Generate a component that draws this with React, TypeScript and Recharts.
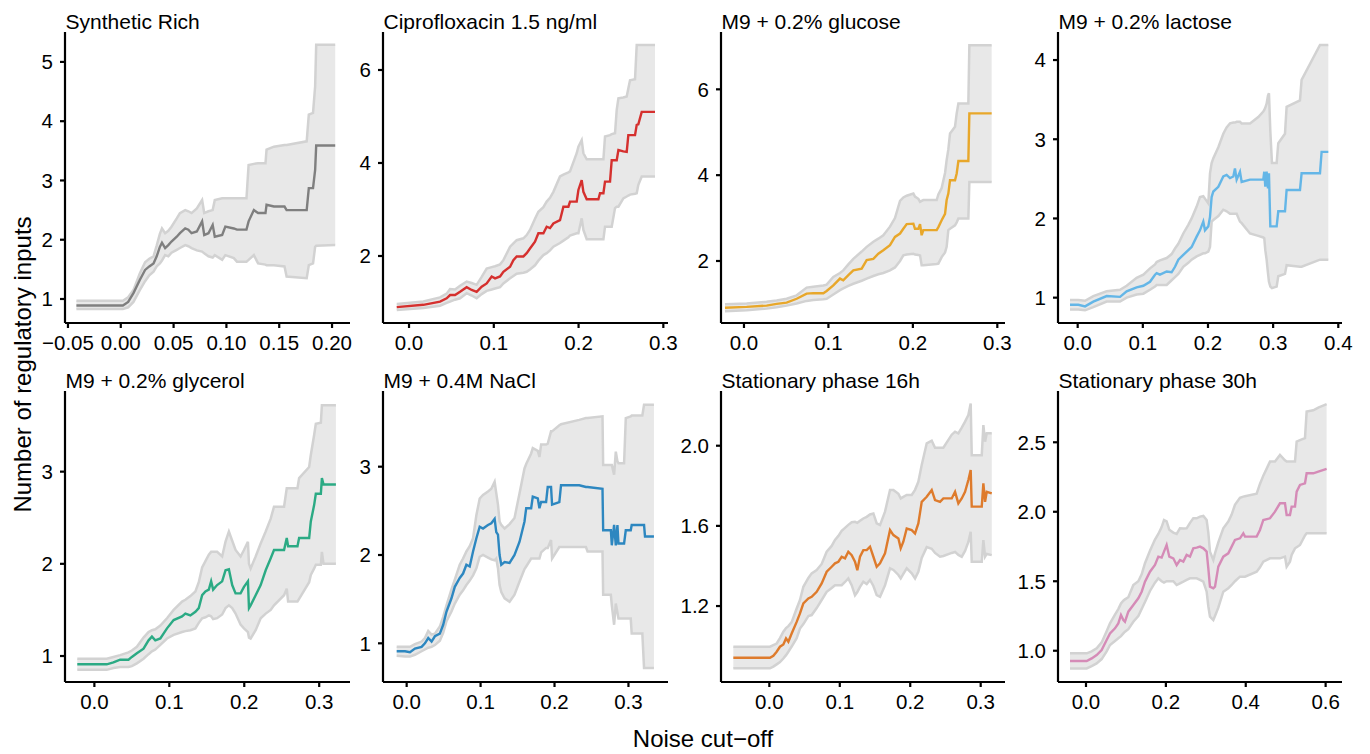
import React from 'react';
import { ComposedChart, Area, Line, XAxis, YAxis } from 'recharts';

const FONT = '"Liberation Sans", Arial, Helvetica, sans-serif';

// ---------- Synthetic Rich ----------
const p1X = [-0.042, 0.002, 0.007, 0.012, 0.018, 0.023, 0.027, 0.031, 0.034, 0.037, 0.039, 0.042, 0.045, 0.048, 0.053, 0.056, 0.061, 0.064, 0.067, 0.072, 0.077, 0.079, 0.083, 0.087, 0.089, 0.096, 0.099, 0.107, 0.110, 0.119, 0.121, 0.126, 0.130, 0.137, 0.138, 0.145, 0.155, 0.157, 0.176, 0.178, 0.182, 0.184, 0.185, 0.203];
const p1Mean = [0.89, 0.89, 0.95, 1.10, 1.32, 1.49, 1.55, 1.60, 1.72, 1.88, 1.95, 1.86, 1.91, 1.97, 2.05, 2.11, 2.19, 2.17, 2.11, 2.14, 2.31, 2.08, 2.11, 2.25, 2.05, 2.08, 2.22, 2.19, 2.17, 2.17, 2.31, 2.50, 2.45, 2.45, 2.59, 2.56, 2.56, 2.50, 2.50, 2.87, 2.87, 3.18, 3.59, 3.59];
const p1Lo = [0.83, 0.83, 0.86, 0.95, 1.15, 1.30, 1.40, 1.46, 1.55, 1.60, 1.65, 1.74, 1.72, 1.78, 1.83, 1.86, 1.91, 1.89, 1.86, 1.82, 1.80, 1.77, 1.72, 1.70, 1.74, 1.66, 1.74, 1.69, 1.63, 1.63, 1.66, 1.74, 1.60, 1.58, 1.57, 1.57, 1.55, 1.38, 1.35, 1.57, 1.60, 1.88, 1.90, 1.91];
const p1Hi = [0.97, 0.97, 1.03, 1.15, 1.43, 1.62, 1.68, 1.72, 1.90, 2.10, 2.19, 2.11, 2.15, 2.22, 2.36, 2.45, 2.50, 2.48, 2.45, 2.53, 2.67, 2.45, 2.48, 2.50, 2.67, 2.70, 2.70, 2.70, 2.70, 2.70, 3.26, 3.28, 3.29, 3.29, 3.52, 3.57, 3.60, 3.60, 3.66, 4.11, 4.14, 4.59, 5.29, 5.29];

// ---------- Ciprofloxacin 1.5 ng/ml ----------
const p2X = [-0.0145, 0.0169, 0.0366, 0.0444, 0.0484, 0.0543, 0.0602, 0.068, 0.0739, 0.0798, 0.0857, 0.0916, 0.0975, 0.1015, 0.1074, 0.1113, 0.1192, 0.1231, 0.127, 0.1349, 0.1388, 0.1427, 0.1486, 0.1526, 0.1585, 0.1624, 0.1663, 0.1703, 0.1781, 0.1821, 0.188, 0.1899, 0.1978, 0.1998, 0.2037, 0.2057, 0.2096, 0.2234, 0.2253, 0.2293, 0.2312, 0.2371, 0.2391, 0.243, 0.245, 0.247, 0.2528, 0.2568, 0.2587, 0.2607, 0.2666, 0.2686, 0.2705, 0.2745, 0.2902];
const p2Mean = [0.90, 0.95, 1.02, 1.09, 1.16, 1.16, 1.23, 1.33, 1.27, 1.23, 1.34, 1.41, 1.56, 1.52, 1.56, 1.66, 1.77, 1.91, 1.99, 1.99, 2.06, 2.16, 2.31, 2.49, 2.49, 2.63, 2.60, 2.70, 2.77, 3.06, 3.06, 3.17, 3.17, 3.42, 3.63, 3.38, 3.22, 3.22, 3.35, 3.35, 3.60, 3.60, 4.06, 4.06, 4.06, 4.28, 4.25, 4.24, 4.60, 4.60, 4.60, 4.82, 4.83, 5.10, 5.10];
const p2Lo = [0.84, 0.88, 0.93, 0.99, 1.02, 1.06, 1.09, 1.20, 1.15, 1.09, 1.18, 1.25, 1.28, 1.30, 1.33, 1.41, 1.52, 1.57, 1.62, 1.64, 1.66, 1.71, 1.80, 1.90, 2.02, 2.06, 2.12, 2.20, 2.28, 2.33, 2.40, 2.44, 2.49, 2.49, 2.81, 2.56, 2.36, 2.36, 2.36, 2.36, 2.63, 2.63, 2.63, 3.03, 3.06, 3.06, 3.24, 3.28, 3.30, 3.32, 3.34, 3.35, 3.53, 3.71, 3.71];
const p2Hi = [0.97, 1.02, 1.11, 1.19, 1.29, 1.28, 1.36, 1.45, 1.42, 1.38, 1.55, 1.73, 1.76, 1.78, 1.82, 1.91, 2.20, 2.27, 2.34, 2.38, 2.45, 2.56, 2.80, 2.95, 3.05, 3.17, 3.25, 3.38, 3.71, 3.75, 3.80, 3.82, 4.21, 4.35, 4.49, 4.21, 4.08, 4.08, 4.08, 4.08, 4.57, 4.60, 4.62, 4.64, 5.14, 5.39, 5.41, 5.43, 5.60, 5.78, 5.80, 6.54, 6.54, 6.54, 6.54];

// ---------- M9 + 0.2% glucose ----------
const p3X = [-0.0225, 0.0032, 0.0268, 0.0387, 0.0505, 0.0624, 0.0742, 0.0821, 0.094, 0.0979, 0.1058, 0.1137, 0.1176, 0.1236, 0.1295, 0.1394, 0.1453, 0.1532, 0.1591, 0.165, 0.1729, 0.1788, 0.1848, 0.1887, 0.1927, 0.2006, 0.2025, 0.2065, 0.2085, 0.2104, 0.2124, 0.2282, 0.2302, 0.2341, 0.2381, 0.24, 0.242, 0.244, 0.2499, 0.2519, 0.2539, 0.2657, 0.2669, 0.2933];
const p3Mean = [0.91, 0.93, 0.96, 1.00, 1.03, 1.12, 1.24, 1.25, 1.25, 1.30, 1.43, 1.59, 1.55, 1.67, 1.78, 1.82, 2.02, 2.05, 2.17, 2.25, 2.37, 2.56, 2.64, 2.75, 2.86, 2.87, 2.75, 2.75, 2.86, 2.60, 2.72, 2.72, 2.79, 2.95, 3.10, 3.42, 3.57, 3.88, 3.88, 4.04, 4.33, 4.33, 5.44, 5.44];
const p3Lo = [0.83, 0.85, 0.89, 0.92, 0.96, 1.01, 1.07, 1.09, 1.11, 1.12, 1.22, 1.32, 1.36, 1.42, 1.47, 1.54, 1.59, 1.65, 1.69, 1.72, 1.78, 1.85, 2.00, 2.13, 2.15, 2.17, 2.15, 2.14, 2.13, 1.90, 1.90, 1.93, 1.94, 2.09, 2.20, 2.33, 2.72, 2.75, 2.83, 2.90, 2.99, 2.99, 3.84, 3.84];
const p3Hi = [0.99, 1.01, 1.05, 1.08, 1.12, 1.20, 1.38, 1.40, 1.43, 1.45, 1.63, 1.72, 1.78, 1.92, 2.05, 2.22, 2.33, 2.45, 2.52, 2.60, 2.80, 3.00, 3.40, 3.48, 3.52, 3.57, 3.50, 3.45, 3.38, 3.40, 3.42, 3.42, 3.55, 3.70, 4.05, 4.35, 4.60, 4.97, 5.13, 5.44, 5.67, 5.67, 7.03, 7.03];

// ---------- M9 + 0.2% lactose ----------
const p4X = [-0.0118, 0.001, 0.0113, 0.024, 0.0445, 0.065, 0.0752, 0.0905, 0.1008, 0.111, 0.1187, 0.1212, 0.1263, 0.1366, 0.1442, 0.1494, 0.1545, 0.1621, 0.1698, 0.1749, 0.1826, 0.1877, 0.1928, 0.1954, 0.2005, 0.2031, 0.2056, 0.2082, 0.2159, 0.2235, 0.2286, 0.2338, 0.2389, 0.2414, 0.244, 0.2491, 0.2517, 0.2645, 0.2772, 0.2849, 0.2864, 0.288, 0.29, 0.2921, 0.2936, 0.2957, 0.2982, 0.3054, 0.3079, 0.3182, 0.3207, 0.3412, 0.3437, 0.3719, 0.3744, 0.3847];
const p4Mean = [0.91, 0.91, 0.89, 0.95, 1.02, 1.01, 1.08, 1.13, 1.15, 1.20, 1.29, 1.31, 1.29, 1.33, 1.32, 1.39, 1.48, 1.54, 1.60, 1.64, 1.77, 1.85, 1.96, 1.85, 1.90, 2.02, 2.27, 2.34, 2.40, 2.53, 2.55, 2.51, 2.53, 2.63, 2.49, 2.59, 2.46, 2.49, 2.49, 2.49, 2.59, 2.40, 2.59, 2.38, 2.57, 1.90, 1.90, 1.90, 2.09, 2.09, 2.36, 2.36, 2.57, 2.57, 2.84, 2.84];
const p4Lo = [0.85, 0.85, 0.84, 0.88, 0.95, 0.95, 1.00, 1.04, 1.05, 1.10, 1.14, 1.16, 1.16, 1.16, 1.22, 1.26, 1.30, 1.39, 1.44, 1.48, 1.52, 1.54, 1.56, 1.56, 1.58, 1.64, 1.96, 1.98, 2.03, 2.11, 2.09, 2.06, 2.06, 2.06, 2.06, 1.96, 1.94, 1.81, 1.78, 1.76, 1.75, 1.60, 1.48, 1.31, 1.20, 1.14, 1.12, 1.14, 1.27, 1.30, 1.41, 1.39, 1.39, 1.48, 1.48, 1.48];
const p4Hi = [0.97, 0.97, 0.96, 1.02, 1.08, 1.10, 1.15, 1.25, 1.29, 1.37, 1.42, 1.45, 1.47, 1.50, 1.55, 1.62, 1.68, 1.81, 1.92, 2.00, 2.15, 2.27, 2.28, 2.25, 2.19, 2.57, 2.70, 2.76, 2.90, 3.07, 3.15, 3.20, 3.21, 3.21, 3.22, 3.22, 3.20, 3.20, 3.28, 3.35, 3.37, 3.40, 3.45, 3.55, 3.58, 3.10, 2.70, 2.70, 2.95, 3.07, 3.41, 3.49, 3.75, 4.19, 4.19, 4.19];

// ---------- M9 + 0.2% glycerol ----------
const p5X = [-0.0228, 0.0165, 0.0254, 0.0344, 0.0455, 0.05, 0.0567, 0.0656, 0.0723, 0.0768, 0.0813, 0.088, 0.0969, 0.1058, 0.117, 0.1214, 0.1281, 0.1348, 0.1393, 0.1438, 0.1482, 0.1527, 0.1558, 0.1585, 0.1638, 0.1705, 0.175, 0.1795, 0.1839, 0.1884, 0.1951, 0.1996, 0.2049, 0.2063, 0.2085, 0.2152, 0.2219, 0.2286, 0.2353, 0.2397, 0.2531, 0.2567, 0.2585, 0.271, 0.2732, 0.2866, 0.2888, 0.2933, 0.2955, 0.3022, 0.3036, 0.3058, 0.3223];
const p5Mean = [0.91, 0.91, 0.93, 0.96, 0.96, 0.99, 1.03, 1.08, 1.17, 1.21, 1.17, 1.19, 1.30, 1.39, 1.43, 1.46, 1.44, 1.48, 1.52, 1.66, 1.70, 1.72, 1.81, 1.72, 1.77, 1.81, 1.93, 1.94, 1.77, 1.68, 1.68, 1.75, 1.81, 1.52, 1.55, 1.66, 1.77, 1.93, 2.06, 2.15, 2.15, 2.28, 2.19, 2.19, 2.28, 2.28, 2.46, 2.64, 2.76, 2.76, 2.93, 2.86, 2.86];
const p5Lo = [0.85, 0.85, 0.87, 0.88, 0.88, 0.89, 0.92, 0.97, 1.02, 1.05, 1.07, 1.12, 1.19, 1.23, 1.26, 1.27, 1.28, 1.30, 1.36, 1.41, 1.42, 1.44, 1.43, 1.40, 1.41, 1.45, 1.52, 1.55, 1.52, 1.46, 1.34, 1.30, 1.26, 1.20, 1.19, 1.28, 1.41, 1.46, 1.50, 1.55, 1.66, 1.73, 1.59, 1.59, 1.62, 1.80, 1.88, 1.95, 1.99, 1.99, 2.13, 2.00, 2.00];
const p5Hi = [0.97, 0.97, 0.99, 1.01, 1.04, 1.06, 1.10, 1.20, 1.26, 1.28, 1.29, 1.33, 1.41, 1.50, 1.59, 1.61, 1.65, 1.70, 1.80, 1.96, 2.03, 2.10, 2.13, 2.13, 2.13, 2.08, 2.24, 2.35, 2.25, 2.15, 2.08, 2.15, 2.24, 2.00, 1.95, 2.08, 2.22, 2.35, 2.49, 2.62, 2.62, 2.82, 2.82, 2.82, 2.93, 3.05, 3.18, 3.40, 3.52, 3.53, 3.72, 3.72, 3.72];

// ---------- M9 + 0.4M NaCl ----------
const p6X = [-0.0135, -0.0022, 0.0045, 0.0112, 0.0202, 0.0247, 0.0292, 0.0337, 0.0382, 0.0449, 0.0494, 0.0539, 0.0606, 0.0651, 0.0718, 0.0763, 0.0808, 0.0853, 0.0898, 0.0943, 0.0988, 0.1033, 0.11, 0.1145, 0.119, 0.1212, 0.1235, 0.1257, 0.128, 0.1325, 0.1392, 0.1459, 0.1527, 0.1594, 0.1617, 0.1684, 0.1706, 0.1774, 0.1796, 0.1819, 0.1886, 0.1908, 0.1953, 0.1967, 0.2065, 0.2088, 0.2335, 0.2425, 0.2447, 0.2649, 0.2658, 0.2762, 0.2775, 0.2806, 0.2829, 0.2851, 0.2865, 0.2941, 0.2964, 0.3031, 0.3044, 0.3188, 0.3211, 0.3224, 0.3345];
const p6Mean = [0.91, 0.91, 0.90, 0.94, 0.96, 1.00, 1.06, 1.02, 1.08, 1.11, 1.21, 1.36, 1.51, 1.64, 1.74, 1.79, 1.89, 1.87, 2.04, 2.19, 2.32, 2.30, 2.34, 2.36, 2.41, 2.26, 2.23, 2.00, 1.89, 1.92, 1.91, 2.00, 2.15, 2.38, 2.53, 2.53, 2.66, 2.64, 2.53, 2.60, 2.60, 2.77, 2.77, 2.57, 2.60, 2.79, 2.79, 2.77, 2.77, 2.75, 2.28, 2.28, 2.11, 2.34, 2.11, 2.34, 2.13, 2.13, 2.28, 2.28, 2.34, 2.34, 2.34, 2.21, 2.21];
const p6Lo = [0.86, 0.85, 0.85, 0.87, 0.91, 0.93, 0.95, 0.96, 0.98, 1.03, 1.12, 1.25, 1.36, 1.45, 1.55, 1.60, 1.66, 1.71, 1.77, 1.85, 1.98, 2.00, 1.97, 1.95, 1.94, 1.96, 1.85, 1.66, 1.58, 1.51, 1.47, 1.55, 1.70, 1.84, 1.87, 1.96, 1.96, 1.96, 1.96, 2.03, 2.08, 2.08, 2.17, 1.96, 2.09, 2.09, 2.09, 2.09, 2.04, 2.04, 1.55, 1.55, 1.43, 1.21, 1.45, 1.35, 1.28, 1.28, 1.28, 1.28, 1.11, 1.11, 0.72, 0.72, 0.72];
const p6Hi = [0.96, 0.96, 0.96, 0.99, 1.02, 1.06, 1.14, 1.10, 1.11, 1.19, 1.30, 1.43, 1.61, 1.72, 1.89, 1.96, 2.04, 2.10, 2.19, 2.45, 2.64, 2.68, 2.72, 2.75, 2.83, 2.70, 2.57, 2.38, 2.34, 2.30, 2.35, 2.42, 2.70, 2.98, 3.03, 3.15, 3.21, 3.18, 3.11, 3.25, 3.25, 3.26, 3.40, 3.40, 3.47, 3.48, 3.53, 3.55, 3.55, 3.57, 3.02, 3.02, 3.02, 2.91, 3.17, 3.06, 3.04, 3.04, 3.55, 3.57, 3.58, 3.58, 3.70, 3.70, 3.70];

// ---------- Stationary phase 16h ----------
const p7X = [-0.0511, 0.0009, 0.0057, 0.0104, 0.0151, 0.0199, 0.0237, 0.027, 0.0317, 0.0388, 0.0435, 0.0483, 0.0554, 0.0601, 0.0672, 0.0743, 0.0814, 0.0885, 0.0932, 0.098, 0.1027, 0.1074, 0.1121, 0.1169, 0.1216, 0.1249, 0.1287, 0.1334, 0.1382, 0.1429, 0.1477, 0.1524, 0.1571, 0.1642, 0.1713, 0.1761, 0.1832, 0.1865, 0.1902, 0.195, 0.2021, 0.2068, 0.2115, 0.2163, 0.2234, 0.2305, 0.2352, 0.2423, 0.247, 0.2589, 0.2636, 0.2683, 0.2731, 0.2778, 0.2825, 0.2858, 0.2873, 0.3015, 0.3038, 0.3062, 0.3086, 0.3157];
const p7Mean = [0.942, 0.942, 0.952, 0.972, 0.997, 1.008, 1.038, 1.022, 1.063, 1.121, 1.163, 1.213, 1.238, 1.246, 1.271, 1.313, 1.371, 1.396, 1.413, 1.421, 1.446, 1.438, 1.471, 1.454, 1.421, 1.379, 1.446, 1.479, 1.479, 1.496, 1.446, 1.396, 1.413, 1.463, 1.579, 1.554, 1.537, 1.488, 1.521, 1.587, 1.579, 1.562, 1.612, 1.72, 1.745, 1.779, 1.729, 1.72, 1.737, 1.737, 1.77, 1.712, 1.737, 1.77, 1.829, 1.879, 1.696, 1.696, 1.812, 1.72, 1.77, 1.762];
const p7Lo = [0.889, 0.889, 0.898, 0.909, 0.92, 0.938, 0.955, 0.972, 0.998, 1.04, 1.088, 1.11, 1.15, 1.155, 1.19, 1.23, 1.271, 1.29, 1.304, 1.304, 1.304, 1.32, 1.338, 1.304, 1.254, 1.27, 1.296, 1.321, 1.31, 1.33, 1.30, 1.254, 1.246, 1.304, 1.388, 1.38, 1.355, 1.338, 1.36, 1.388, 1.363, 1.338, 1.371, 1.44, 1.494, 1.486, 1.465, 1.446, 1.45, 1.465, 1.47, 1.455, 1.446, 1.475, 1.52, 1.571, 1.421, 1.421, 1.529, 1.446, 1.46, 1.454];
const p7Hi = [0.997, 0.997, 1.005, 1.013, 1.04, 1.072, 1.09, 1.10, 1.12, 1.188, 1.23, 1.296, 1.34, 1.363, 1.38, 1.41, 1.471, 1.50, 1.53, 1.55, 1.575, 1.59, 1.605, 1.618, 1.62, 1.615, 1.625, 1.637, 1.645, 1.657, 1.662, 1.612, 1.604, 1.671, 1.779, 1.779, 1.76, 1.737, 1.745, 1.754, 1.754, 1.78, 1.82, 1.904, 2.012, 2.025, 1.99, 1.99, 1.99, 2.055, 2.07, 2.062, 2.09, 2.12, 2.153, 2.211, 1.953, 1.953, 2.103, 2.02, 2.062, 2.062];

// ---------- Stationary phase 30h ----------
const p8X = [-0.040, 0.0017, 0.0142, 0.0267, 0.0392, 0.0517, 0.0601, 0.0726, 0.0809, 0.0876, 0.0935, 0.0976, 0.106, 0.1185, 0.131, 0.1394, 0.1477, 0.1602, 0.1727, 0.1811, 0.1894, 0.1953, 0.2019, 0.2086, 0.2186, 0.227, 0.2353, 0.2437, 0.252, 0.2604, 0.2687, 0.2771, 0.2854, 0.2938, 0.3021, 0.3063, 0.3104, 0.3188, 0.323, 0.3313, 0.3438, 0.3563, 0.3647, 0.373, 0.3855, 0.3939, 0.3981, 0.4273, 0.4356, 0.444, 0.4607, 0.4732, 0.4857, 0.4982, 0.5024, 0.5107, 0.5149, 0.5233, 0.5275, 0.5358, 0.5483, 0.5525, 0.5691, 0.5817, 0.6025];
const p8Mean = [0.926, 0.926, 0.945, 0.969, 1.005, 1.077, 1.125, 1.161, 1.197, 1.257, 1.221, 1.209, 1.281, 1.329, 1.377, 1.425, 1.497, 1.569, 1.617, 1.677, 1.67, 1.713, 1.761, 1.677, 1.665, 1.617, 1.653, 1.641, 1.689, 1.677, 1.737, 1.742, 1.749, 1.737, 1.713, 1.593, 1.461, 1.449, 1.461, 1.605, 1.677, 1.701, 1.749, 1.797, 1.809, 1.845, 1.821, 1.821, 1.869, 1.941, 1.953, 2.001, 2.061, 2.061, 1.977, 1.977, 2.037, 2.037, 2.145, 2.193, 2.205, 2.277, 2.277, 2.289, 2.308];
const p8Lo = [0.873, 0.873, 0.89, 0.909, 0.94, 0.995, 1.041, 1.07, 1.09, 1.105, 1.125, 1.137, 1.155, 1.209, 1.25, 1.30, 1.35, 1.43, 1.49, 1.521, 1.50, 1.49, 1.50, 1.50, 1.50, 1.473, 1.485, 1.497, 1.51, 1.521, 1.521, 1.521, 1.51, 1.497, 1.425, 1.32, 1.245, 1.221, 1.25, 1.31, 1.425, 1.45, 1.473, 1.50, 1.533, 1.533, 1.533, 1.569, 1.60, 1.641, 1.665, 1.665, 1.665, 1.677, 1.605, 1.641, 1.69, 1.737, 1.745, 1.761, 1.83, 1.845, 1.845, 1.845, 1.845];
const p8Hi = [0.981, 0.981, 0.995, 1.017, 1.06, 1.14, 1.197, 1.26, 1.30, 1.34, 1.36, 1.37, 1.385, 1.473, 1.50, 1.55, 1.63, 1.72, 1.80, 1.84, 1.89, 1.94, 1.93, 1.87, 1.85, 1.84, 1.881, 1.88, 1.881, 1.92, 1.953, 1.953, 1.965, 1.97, 1.941, 1.85, 1.713, 1.653, 1.70, 1.78, 1.881, 1.93, 1.98, 2.05, 2.10, 2.109, 2.112, 2.13, 2.20, 2.26, 2.361, 2.361, 2.409, 2.37, 2.361, 2.361, 2.361, 2.361, 2.505, 2.515, 2.53, 2.721, 2.73, 2.75, 2.774];

// ---------- titles / ticks ----------
const titles = ['Synthetic Rich', 'Ciprofloxacin 1.5 ng/ml', 'M9 + 0.2% glucose', 'M9 + 0.2% lactose', 'M9 + 0.2% glycerol', 'M9 + 0.4M NaCl', 'Stationary phase 16h', 'Stationary phase 30h'];
const colors = ['#7F7F7F', '#D5302E', '#E8A72A', '#64B6E7', '#2BAA84', '#2D87C0', '#DE7B2C', '#D58BB7'];
const xTickSets = [
  [-0.05, 0, 0.05, 0.1, 0.15, 0.2],
  [0, 0.1, 0.2, 0.3],
  [0, 0.1, 0.2, 0.3],
  [0, 0.1, 0.2, 0.3, 0.4],
  [0, 0.1, 0.2, 0.3],
  [0, 0.1, 0.2, 0.3],
  [0, 0.1, 0.2, 0.3],
  [0, 0.2, 0.4, 0.6],
];
const yTickSets = [
  [1, 2, 3, 4, 5],
  [2, 4, 6],
  [2, 4, 6],
  [1, 2, 3, 4],
  [1, 2, 3],
  [1, 2, 3],
  [1.2, 1.6, 2.0],
  [1.0, 1.5, 2.0, 2.5],
];
const xDigits = [2, 1, 1, 1, 1, 1, 1, 1];
const yDigits = [0, 0, 0, 0, 0, 0, 1, 1];
const xDomains: [number, number][] = [
  [-0.0528, 0.217], [-0.0307, 0.3055], [-0.0272, 0.3091], [-0.0302, 0.4057],
  [-0.0392, 0.3411], [-0.032, 0.3535], [-0.0686, 0.3345], [-0.0701, 0.641],
];
const yDomains: [number, number][] = [
  [0.595, 5.505], [0.559, 6.817], [0.555, 7.336], [0.68, 4.354],
  [0.718, 3.875], [0.562, 3.857], [0.821, 2.273], [0.775, 2.869],
];
const seriesX = [p1X, p2X, p3X, p4X, p5X, p6X, p7X, p8X];
const seriesMean = [p1Mean, p2Mean, p3Mean, p4Mean, p5Mean, p6Mean, p7Mean, p8Mean];
const seriesLo = [p1Lo, p2Lo, p3Lo, p4Lo, p5Lo, p6Lo, p7Lo, p8Lo];
const seriesHi = [p1Hi, p2Hi, p3Hi, p4Hi, p5Hi, p6Hi, p7Hi, p8Hi];

// layout (plot area positions)
const axisXs = [65, 383, 721, 1058];
const plotWs = [285, 285, 284, 284];
const axisTops = [32, 391];
const PLOT_H = 291;
const Y_AXIS_W = 60;
const X_AXIS_H = 40;
const M_TOP = 10;
const M_RIGHT = 15;
const TICK_FONT = 20.5;

const fmt = (d: number) => (v: number) => {
  const s = Math.abs(v).toFixed(d);
  return v < -1e-9 ? '\u2212' + s : s;
};

function makeXTick(d: number) {
  const f = fmt(d);
  return (props: any) => (
    <text x={props.x} y={props.y + TICK_FONT * 0.71} textAnchor="middle" fontSize={TICK_FONT} fontFamily={FONT} fill="#000">
      {f(props.payload.value)}
    </text>
  );
}

function makeYTick(d: number) {
  const f = fmt(d);
  return (props: any) => (
    <text x={props.x} y={props.y + TICK_FONT * 0.355} textAnchor="end" fontSize={TICK_FONT} fontFamily={FONT} fill="#000">
      {f(props.payload.value)}
    </text>
  );
}

function Panel({ i }: { i: number }) {
  const col = i % 4;
  const row = Math.floor(i / 4);
  const plotW = plotWs[col];
  const W = Y_AXIS_W + plotW + M_RIGHT;
  const H = M_TOP + PLOT_H + X_AXIS_H;
  const data = seriesX[i].map((x, k) => ({
    x,
    mean: seriesMean[i][k],
    lo: seriesLo[i][k],
    hi: seriesHi[i][k],
    band: [seriesLo[i][k], seriesHi[i][k]],
  }));
  return (
    <div style={{ position: 'absolute', left: axisXs[col] - Y_AXIS_W, top: axisTops[row] - M_TOP }}>
      <ComposedChart width={W} height={H} data={data} margin={{ top: M_TOP, right: M_RIGHT, bottom: 0, left: 0 }}>
        <XAxis
          type="number"
          dataKey="x"
          domain={xDomains[i]}
          ticks={xTickSets[i]}
          allowDataOverflow
          interval={0}
          height={X_AXIS_H}
          tickSize={5}
          tickMargin={7}
          axisLine={{ stroke: '#000', strokeWidth: 2.2 }}
          tickLine={{ stroke: '#000', strokeWidth: 2.2 }}
          tick={makeXTick(xDigits[i])}
        />
        <YAxis
          type="number"
          domain={yDomains[i]}
          ticks={yTickSets[i]}
          allowDataOverflow
          interval={0}
          width={Y_AXIS_W}
          tickSize={5}
          tickMargin={7}
          axisLine={{ stroke: '#000', strokeWidth: 2.2 }}
          tickLine={{ stroke: '#000', strokeWidth: 2.2 }}
          tick={makeYTick(yDigits[i])}
        />
        <Area type="linear" dataKey="band" stroke="none" fill="#E8E8E8" fillOpacity={1} isAnimationActive={false} />
        <Line type="linear" dataKey="lo" stroke="#D2D2D2" strokeWidth={2.5} dot={false} activeDot={false} isAnimationActive={false} />
        <Line type="linear" dataKey="hi" stroke="#D2D2D2" strokeWidth={2.5} dot={false} activeDot={false} isAnimationActive={false} />
        <Line type="linear" dataKey="mean" stroke={colors[i]} strokeWidth={2.4} dot={false} activeDot={false} isAnimationActive={false} />
      </ComposedChart>
    </div>
  );
}

export default function App() {
  return (
    <div style={{ position: 'absolute', left: 0, top: 0, width: 1370, height: 754, background: '#fff', overflow: 'hidden', fontFamily: FONT }}>
      {titles.map((_, i) => (
        <Panel key={i} i={i} />
      ))}
      <svg width={1370} height={754} style={{ position: 'absolute', left: 0, top: 0, pointerEvents: 'none' }}>
        {titles.map((t, i) => (
          <text key={t} x={axisXs[i % 4] + 0.5} y={axisTops[Math.floor(i / 4)] - 3} fontSize={21} fontFamily={FONT} fill="#000">
            {t}
          </text>
        ))}
        <text x={703} y={747} fontSize={24} fontFamily={FONT} fill="#000" textAnchor="middle">
          Noise cut{'\u2212'}off
        </text>
        <text x={31} y={364.5} fontSize={24} fontFamily={FONT} fill="#000" textAnchor="middle" transform="rotate(-90 31 364.5)">
          Number of regulatory inputs
        </text>
      </svg>
    </div>
  );
}
